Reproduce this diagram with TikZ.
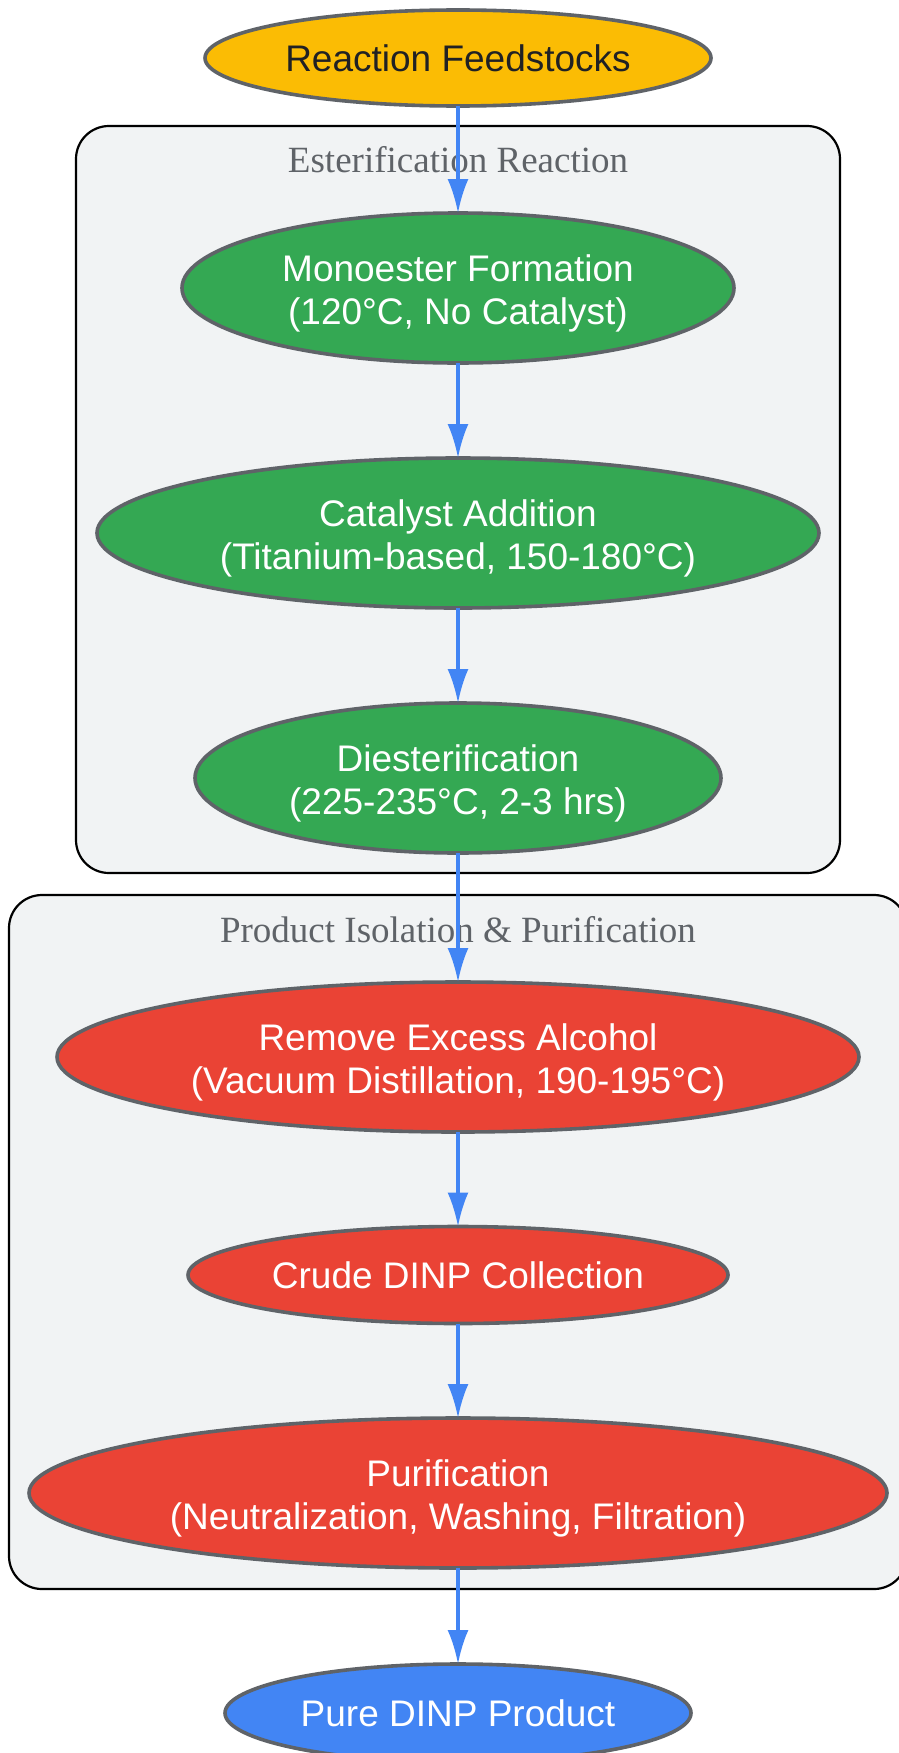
\documentclass[tikz,border=0pt]{standalone}
\usepackage{fontspec}
\setmainfont{Liberation Sans}
\newfontfamily\clusterfont{Liberation Serif}
\usetikzlibrary{shapes.geometric,arrows.meta}
\definecolor{gyellow}{HTML}{FBBC04}
\definecolor{ggreen}{HTML}{34A853}
\definecolor{gred}{HTML}{EA4335}
\definecolor{gblue}{HTML}{4285F4}
\definecolor{gborder}{HTML}{5F6368}
\definecolor{cbg}{HTML}{F1F3F4}
\definecolor{darktext}{HTML}{202124}
\definecolor{labelgray}{HTML}{5F6368}
\begin{document}
\begin{tikzpicture}[x=1pt,y=-1pt,
  proc/.style={ellipse, draw=gborder, line width=3.6pt, inner sep=0pt, outer sep=0pt},
  ptext/.style={text=white, align=center, inner sep=0pt, font=\fontsize{37}{43}\selectfont},
  cluster/.style={draw=black, fill=cbg, line width=2.2pt, rounded corners=33pt},
  clabel/.style={text=labelgray, font=\clusterfont\fontsize{37}{42}\selectfont, inner sep=0pt},
  flow/.style={draw=gblue, line width=3.3pt, -{Latex[length=34pt,width=21pt]}},
]
\useasboundingbox (0,0) rectangle (898,1753);
\fill[white] (0,0) rectangle (898,1753);

% clusters
\draw[cluster] (76,126) rectangle (840,873);
\node[clabel] (lab1) at (458,160) {Esterification Reaction};
\draw[cluster] (9,895) rectangle (907,1589);
\node[clabel] (lab2) at (458,930) {Product Isolation \& Purification};

% nodes
\node[proc, fill=gyellow, minimum width=506pt, minimum height=96pt,
  label={[ptext, text=darktext]center:Reaction Feedstocks}] (feed) at (458,58) {};
\node[proc, fill=ggreen, minimum width=552pt, minimum height=150pt,
  label={[ptext, yshift=-5pt]center:Monoester Formation\\(120°C, No Catalyst)}] (mono) at (458,288) {};
\node[proc, fill=ggreen, minimum width=722pt, minimum height=150pt,
  label={[ptext, yshift=-5pt]center:Catalyst Addition\\(Titanium-based, 150-180°C)}] (cat) at (458,533) {};
\node[proc, fill=ggreen, minimum width=526pt, minimum height=150pt,
  label={[ptext, yshift=-5pt]center:Diesterification\\(225-235°C, 2-3 hrs)}] (dies) at (458,778) {};
\node[proc, fill=gred, minimum width=802pt, minimum height=150pt,
  label={[ptext, yshift=-5pt]center:Remove Excess Alcohol\\(Vacuum Distillation, 190-195°C)}] (alc) at (458,1057) {};
\node[proc, fill=gred, minimum width=540pt, minimum height=97pt,
  label={[ptext]center:Crude DINP Collection}] (crude) at (458,1275) {};
\node[proc, fill=gred, minimum width=858pt, minimum height=150pt,
  label={[ptext, yshift=-5pt]center:Purification\\(Neutralization, Washing, Filtration)}] (pur) at (458,1493) {};
\node[proc, fill=gblue, minimum width=466pt, minimum height=98pt,
  label={[ptext]center:Pure DINP Product}] (pure) at (458,1713) {};

% connectors
\draw[flow] (feed) -- (mono);
\draw[flow] (mono) -- (cat);
\draw[flow] (cat) -- (dies);
\draw[flow] (dies) -- (alc);
\draw[flow] (alc) -- (crude);
\draw[flow] (crude) -- (pur);
\draw[flow] (pur) -- (pure);
\end{tikzpicture}
\end{document}
